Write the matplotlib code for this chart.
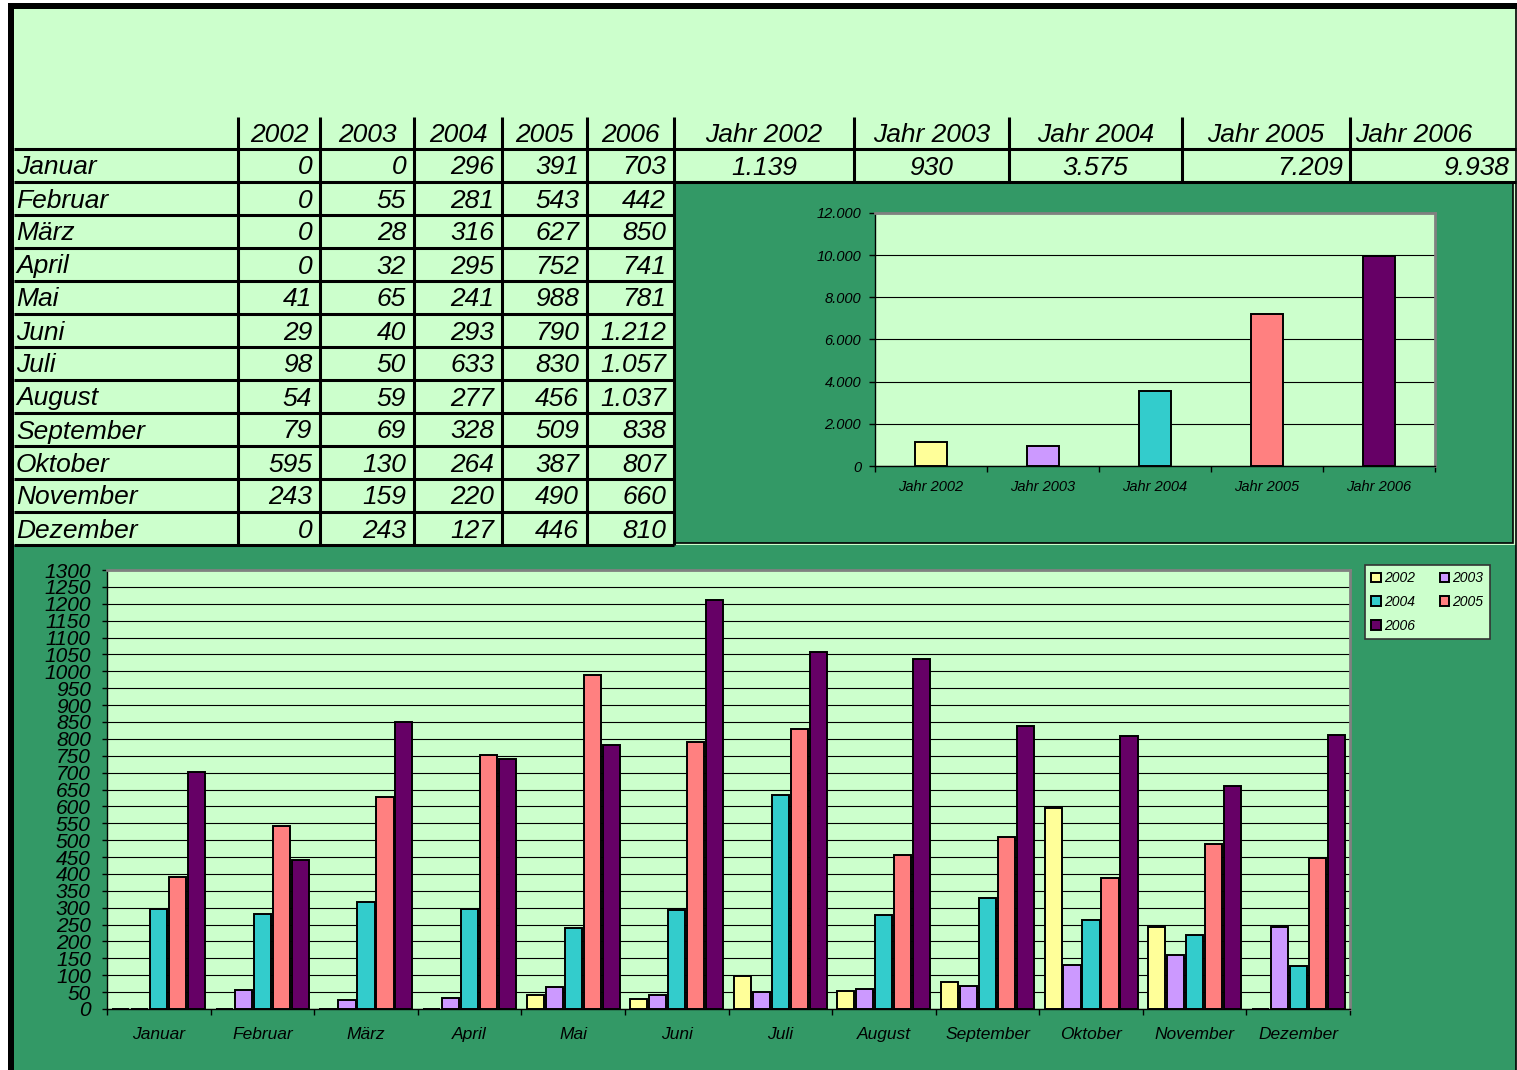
import numpy as np
import matplotlib
matplotlib.use("Agg")
import matplotlib.pyplot as plt
from matplotlib.patches import Rectangle
from matplotlib.ticker import MultipleLocator, FixedLocator, FuncFormatter, NullFormatter

# ---------------- data ----------------
months = ["Januar", "Februar", "März", "April", "Mai", "Juni", "Juli",
          "August", "September", "Oktober", "November", "Dezember"]
years = ["2002", "2003", "2004", "2005", "2006"]
v2002 = [0, 0, 0, 0, 41, 29, 98, 54, 79, 595, 243, 0]
v2003 = [0, 55, 28, 32, 65, 40, 50, 59, 69, 130, 159, 243]
v2004 = [296, 281, 316, 295, 241, 293, 633, 277, 328, 264, 220, 127]
v2005 = [391, 543, 627, 752, 988, 790, 830, 456, 509, 387, 490, 446]
v2006 = [703, 442, 850, 741, 781, 1212, 1057, 1037, 838, 807, 660, 810]
total_labels = ["Jahr 2002", "Jahr 2003", "Jahr 2004", "Jahr 2005", "Jahr 2006"]
totals = [1139, 930, 3575, 7209, 9938]

series = [v2002, v2003, v2004, v2005, v2006]

# ---------------- style ----------------
LG = "#CCFFCC"
DG = "#339966"
COLORS = ["#FFFF99", "#CC99FF", "#33CCCC", "#FF8080", "#660066"]
plt.rcParams["font.family"] = ["Liberation Sans", "DejaVu Sans"]
plt.rcParams["font.style"] = "italic"


def de(v):
    return f"{int(round(v)):,}".replace(",", ".")


W, H = 1517, 1070
fig = plt.figure(figsize=(W / 100, H / 100), dpi=100)
fig.patch.set_facecolor("white")

cv = fig.add_axes([0, 0, 1, 1])
cv.set_xlim(0, W)
cv.set_ylim(H, 0)
cv.axis("off")


def px_axes(x0, y0, x1, y1):
    return fig.add_axes([x0 / W, 1 - y1 / H, (x1 - x0) / W, (y1 - y0) / H])


def hline(y, x0, x1, lw=2.2):
    cv.plot([x0, x1], [y, y], color="black", lw=lw, solid_capstyle="butt")


def vline(x, y0, y1, lw=2.2):
    cv.plot([x, x], [y0, y1], color="black", lw=lw, solid_capstyle="butt")


# background regions
cv.add_patch(Rectangle((8, 3), W - 8, H - 3, fc=LG, ec="none"))
cv.add_patch(Rectangle((14, 545), 1502, H - 545 + 5, fc=DG, ec="none"))
cv.add_patch(Rectangle((674, 182), 1513 - 674, 543 - 182, fc=DG, ec="black", lw=1.2))
cv.add_patch(Rectangle((8, 3), 6, H, fc="black", ec="none"))
cv.add_patch(Rectangle((8, 3), W - 8, 6, fc="black", ec="none"))
vline(1516, 3, H, lw=1.2)

# table grid
left_cols = [14, 238, 320, 414, 502, 587, 674]
right_cols = [674, 854, 1009, 1182, 1350, 1516]
row_top = 149
row_h = 33

for x in left_cols[1:-1]:
    vline(x, 117, 545)
vline(674, 117, 545)
for x in right_cols[1:-1]:
    vline(x, 117, 182)
hline(149, 14, 1516)
hline(182, 14, 1516)
for k in range(2, 13):
    hline(row_top + k * row_h, 14, 674)

FS = 19
# header years
for i, y in enumerate(years):
    cv.text((left_cols[i + 1] + left_cols[i + 2]) / 2, 135, y, ha="center", va="center", fontsize=FS)
# month rows
for r, m in enumerate(months):
    yc = row_top + r * row_h + row_h / 2 + 2
    cv.text(16, yc, m, ha="left", va="center", fontsize=FS)
    for i, s in enumerate(series):
        cv.text(left_cols[i + 2] - 8, yc, de(s[r]), ha="right", va="center", fontsize=FS)

# totals header & values
hdr_align = ["center", "center", "center", "center", "left"]
val_align = ["center", "center", "center", "right", "right"]
for i in range(5):
    x0, x1 = right_cols[i], right_cols[i + 1]
    xh = {"center": (x0 + x1) / 2, "left": x0 + 5, "right": x1 - 8}[hdr_align[i]]
    cv.text(xh, 135, total_labels[i], ha=hdr_align[i], va="center", fontsize=FS)
    xv = {"center": (x0 + x1) / 2, "left": x0 + 5, "right": x1 - 7}[val_align[i]]
    cv.text(xv, 168, de(totals[i]), ha=val_align[i], va="center", fontsize=FS)


def style_axes(ax):
    ax.set_facecolor(LG)
    ax.spines["left"].set_color("black")
    ax.spines["bottom"].set_color("black")
    ax.spines["left"].set_linewidth(1.0)
    ax.spines["bottom"].set_linewidth(1.0)
    for s in ("top", "right"):
        ax.spines[s].set_color("#808080")
        ax.spines[s].set_linewidth(2.0)
    ax.set_axisbelow(True)
    ax.grid(axis="y", color="black", lw=0.8)
    ax.grid(axis="x", visible=False)


# ---------------- small chart ----------------
ax2 = px_axes(875, 213, 1435, 466)
style_axes(ax2)
xs = np.arange(5) + 0.5
ax2.bar(xs, totals, width=0.29, color=COLORS, edgecolor="black", lw=1.4, zorder=3)
ax2.set_xlim(0, 5)
ax2.set_ylim(0, 12000)
ax2.yaxis.set_major_locator(MultipleLocator(2000))
ax2.yaxis.set_major_formatter(FuncFormatter(lambda v, p: de(v)))
ax2.xaxis.set_major_locator(FixedLocator(np.arange(6)))
ax2.xaxis.set_major_formatter(NullFormatter())
ax2.xaxis.set_minor_locator(FixedLocator(xs))
ax2.set_xticklabels(total_labels, minor=True)
ax2.tick_params(axis="x", which="major", direction="out", length=4, width=1)
ax2.tick_params(axis="x", which="minor", length=0, pad=10, labelsize=10.5)
ax2.tick_params(axis="y", direction="out", length=4, width=1, pad=6, labelsize=10.5)

# ---------------- big chart ----------------
ax = px_axes(107, 570, 1350, 1009)
style_axes(ax)
xc = np.arange(12) + 0.5
step, bw = 0.1834, 0.165
handles = []
for j, (vals, c) in enumerate(zip(series, COLORS)):
    b = ax.bar(xc + (j - 2) * step, vals, width=bw, color=c, edgecolor="black", lw=1.4,
               zorder=3, label=years[j])
    handles.append(b)
ax.set_xlim(0, 12)
ax.set_ylim(0, 1300)
ax.yaxis.set_major_locator(MultipleLocator(50))
ax.yaxis.set_major_formatter(FuncFormatter(lambda v, p: f"{int(v)}"))
ax.xaxis.set_major_locator(FixedLocator(np.arange(13)))
ax.xaxis.set_major_formatter(NullFormatter())
ax.xaxis.set_minor_locator(FixedLocator(xc))
ax.set_xticklabels(months, minor=True)
ax.tick_params(axis="x", which="major", direction="out", length=4, width=1)
ax.tick_params(axis="x", which="minor", length=0, pad=13, labelsize=12.5)
ax.tick_params(axis="y", direction="out", length=3.6, width=1, pad=8, labelsize=15)

order = [0, 2, 4, 1, 3]
leg = ax.legend([handles[i] for i in order], [years[i] for i in order], ncol=2,
                loc="upper left", bbox_to_anchor=(1365 / W, 1 - 565 / H),
                bbox_transform=fig.transFigure, fontsize=10, frameon=True,
                fancybox=False, facecolor=LG, edgecolor="#333333", framealpha=1,
                handlelength=0.7, handleheight=0.7, handletextpad=0.2,
                columnspacing=1.8, labelspacing=0.7, borderpad=0.45, borderaxespad=0)
leg.get_frame().set_linewidth(1.2)

fig.savefig("out.png", dpi=100, facecolor=fig.get_facecolor())
